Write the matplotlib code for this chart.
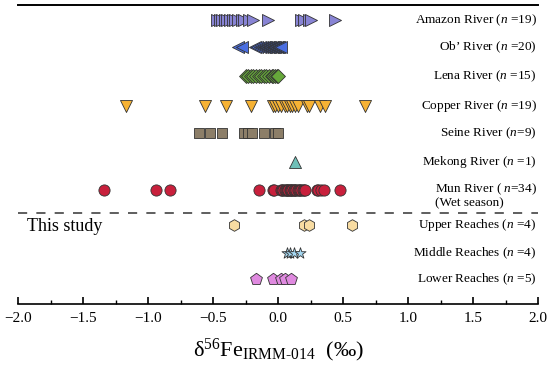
import matplotlib
matplotlib.use('Agg')
import matplotlib.pyplot as plt
from matplotlib.ticker import MultipleLocator

plt.rcParams['font.family'] = ['Liberation Serif', 'DejaVu Serif']
plt.rcParams['mathtext.fontset'] = 'custom'
plt.rcParams['mathtext.rm'] = 'Liberation Serif'
plt.rcParams['mathtext.it'] = 'Liberation Serif:italic'

# d56Fe values (permil)
amazon = [-0.47, -0.45, -0.43, -0.41, -0.39, -0.37, -0.35, -0.33, -0.31, -0.28,
          -0.26, -0.22, -0.19, -0.08, 0.18, 0.20, 0.24, 0.25, 0.44]
ob = [-0.31, -0.28, -0.18, -0.16, -0.14, -0.12, -0.11, -0.10, -0.09, -0.08,
      -0.07, -0.06, -0.05, -0.04, -0.03, -0.02, -0.01, 0.00, 0.01, 0.02]
lena = [-0.25, -0.23, -0.21, -0.19, -0.17, -0.15, -0.13, -0.11, -0.09, -0.07,
        -0.05, -0.04, -0.02, -0.01, 0.00]
copper = [-1.17, -0.56, -0.40, -0.21, -0.04, -0.02, 0.00, 0.02, 0.05, 0.07,
          0.09, 0.11, 0.13, 0.15, 0.22, 0.24, 0.32, 0.36, 0.67]
seine = [-0.61, -0.52, -0.43, -0.26, -0.23, -0.20, -0.11, -0.02, 0.00]
mekong = [0.13]
mun = [-1.34, -0.94, -0.83, -0.15, -0.04, -0.03,
       0.02, 0.03, 0.04, 0.05, 0.06, 0.07, 0.08, 0.08, 0.09, 0.10,
       0.10, 0.11, 0.12, 0.12, 0.13, 0.14, 0.15, 0.16, 0.17, 0.18,
       0.19, 0.20, 0.21, 0.30, 0.31, 0.33, 0.35, 0.48]
upper = [-0.34, 0.20, 0.24, 0.57]
middle = [0.07, 0.09, 0.12, 0.17]
lower = [-0.17, -0.04, 0.02, 0.05, 0.10]

labels = ['Amazon River ($n$ =19)', 'Ob\u2019 River ($n$ =20)', 'Lena River ($n$ =15)',
          'Copper River ($n$ =19)', 'Seine River ($n$=9)', 'Mekong River ($n$ =1)',
          'Mun River ( $n$=34)\n(Wet season)', 'Upper Reaches ($n$ =4)',
          'Middle Reaches ($n$ =4)', 'Lower Reaches ($n$ =5)']
groups = [amazon, ob, lena, copper, seine, mekong, mun, upper, middle, lower]
rows = [0, 0.95, 1.98, 3.04, 3.99, 5.02, 6.0, 7.24, 8.23, 9.15]
markers = ['>', '<', 'D', 'v', 's', '^', 'o', 'h', '*', 'p']
colors = ['#8884d4', '#4a6ee0', '#66a83a', '#f6b234', '#8c7e68', '#6fc0b8',
          '#c8203c', '#f8dca2', '#a6d8f2', '#e08ae0']
sizes = [75, 75, 50, 75, 50, 75, 65, 70, 70, 80]

fig = plt.figure(figsize=(5.5, 3.65), dpi=100)
ax = fig.add_axes([18 / 550, 1 - 304 / 365, 520 / 550, 299 / 365])

for vals, y, m, c, s in zip(groups, rows, markers, colors, sizes):
    ax.scatter(vals, [y] * len(vals), marker=m, s=s, c=c,
               edgecolors='#333333', linewidths=0.6, zorder=3)

for lab, y in zip(labels, rows):
    yy = y + 0.2 if 'Mun' in lab else y
    ax.text(1.99, yy, lab, ha='right', va='center', fontsize=9.5,
            multialignment='left', linespacing=1.0)

ax.axhline(6.82, color='#333333', lw=1.1, ls=(0, (6, 6)))
ax.text(-1.93, 7.3, 'This study', ha='left', va='center', fontsize=13)

ax.set_xlim(-2.0, 2.0)
ax.set_ylim(10.03, -0.53)
ax.set_yticks([])
ax.spines['left'].set_visible(False)
ax.spines['right'].set_visible(False)
ax.spines['top'].set_linewidth(1.4)
ax.spines['bottom'].set_linewidth(1.2)
ax.xaxis.set_major_locator(MultipleLocator(0.5))
ax.xaxis.set_minor_locator(MultipleLocator(0.25))
ax.tick_params(axis='x', which='major', direction='in', length=5, width=1.2,
               labelsize=11, pad=6)
ax.tick_params(axis='x', which='minor', direction='in', length=3, width=1.0)
ax.set_xlabel('\u03b4$^{56}$Fe$_{\\mathrm{IRMM\u2010014}}$  (\u2030)',
              fontsize=16, labelpad=8)

fig.savefig('out.png', dpi=100)
